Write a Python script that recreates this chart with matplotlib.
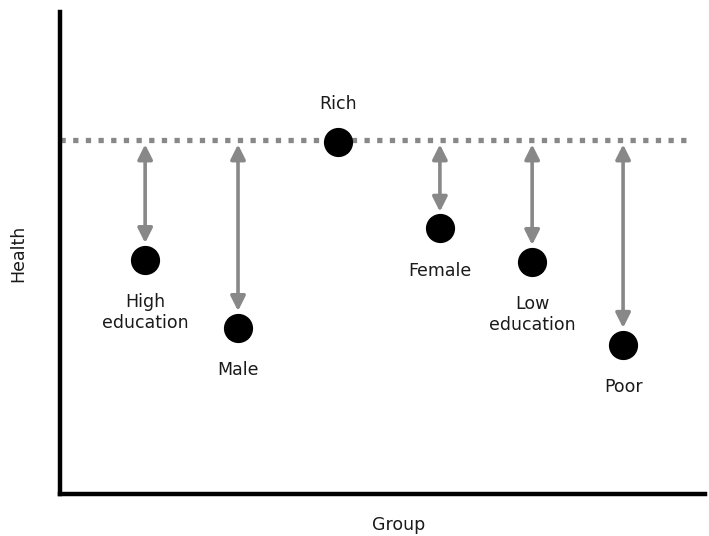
import numpy as np
import matplotlib
matplotlib.use("Agg")
import matplotlib.pyplot as plt

# groups and their (made up) health level
groups = ["High\neducation", "Male", "Rich", "Female", "Low\neducation", "Poor"]
group_x = [13.2, 27.6, 43.1, 58.9, 73.2, 87.3]
health = [48.6, 34.5, 73.0, 55.1, 48.2, 31.0]
reference = 73.4

plt.rcParams['font.family'] = ['DejaVu Sans']
txt_color = '#1a1a1a'
fs = 12.5

fig = plt.figure(figsize=(7.09, 5.36), dpi=100)
ax = fig.add_axes([60 / 709, 42 / 536, 645 / 709, 482 / 536])
ax.set_xlim(0, 100)
ax.set_ylim(0, 100)

# reference line (dotted, square dots)
ax.plot([0, 97], [reference, reference], color='#888888', lw=3.8,
        dashes=(1.0, 1.4), solid_capstyle='butt', dash_capstyle='butt', zorder=1)

for name, x, y in zip(groups, group_x, health):
    if abs(y - reference) > 2:
        # double headed arrow from the line to the point
        ax.annotate('', xy=(x, y), xytext=(x, reference),
                    arrowprops=dict(arrowstyle='<|-|>', color='#888888', lw=2.6,
                                    mutation_scale=22, shrinkA=3, shrinkB=12))
    ax.plot(x, y, 'o', color='black', ms=20, zorder=3)
    if y >= reference - 2:
        ax.annotate(name, xy=(x, y), xytext=(0, 21), textcoords='offset points',
                    ha='center', va='bottom', fontsize=fs, color=txt_color)
    else:
        ax.annotate(name, xy=(x, y), xytext=(0, -24), textcoords='offset points',
                    ha='center', va='top', fontsize=fs, color=txt_color,
                    linespacing=1.2)

for side in ['top', 'right']:
    ax.spines[side].set_visible(False)
for side in ['left', 'bottom']:
    ax.spines[side].set_linewidth(3.2)
    ax.spines[side].set_color('black')
ax.set_xticks([])
ax.set_yticks([])
ax.set_xlabel('Group', fontsize=fs, color=txt_color)
ax.set_ylabel('Health', fontsize=fs, color=txt_color)
ax.xaxis.set_label_coords((399 - 60) / 645, -0.045)
ax.yaxis.set_label_coords(-0.05, 0.5)

fig.savefig('out.png', dpi=100)
